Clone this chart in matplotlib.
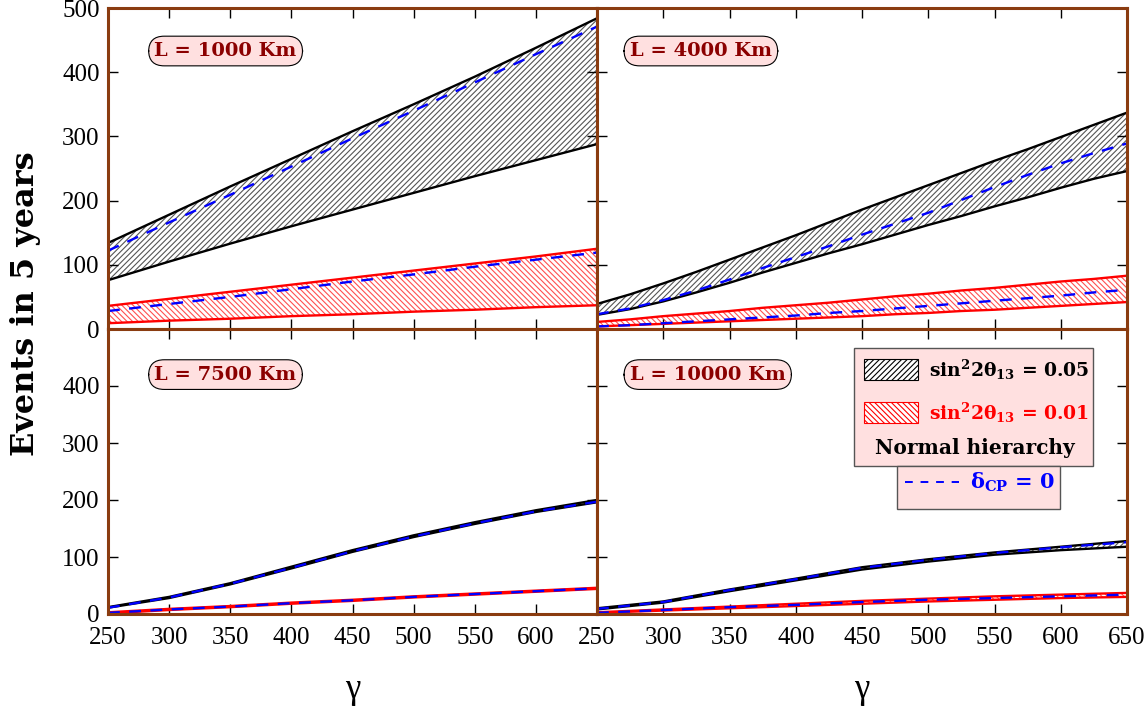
import matplotlib
matplotlib.use("Agg")
import matplotlib.pyplot as plt
from matplotlib.patches import Rectangle
from matplotlib.lines import Line2D

plt.rcParams['font.family'] = ['Liberation Serif', 'DejaVu Serif']
plt.rcParams['mathtext.fontset'] = 'dejavuserif'
plt.rcParams['hatch.linewidth'] = 0.8

gamma = [250, 300, 350, 400, 450, 500, 550, 600, 650]
gamma_fine = [250, 275, 300, 325, 350, 375, 400, 425, 450,
              475, 500, 525, 550, 575, 600, 625, 650]

# L = 1000 Km
l1000_05_up = [134, 178, 222, 265, 308, 350, 393, 438, 484]
l1000_05_lo = [76, 105, 133, 160, 186, 212, 238, 263, 288]
l1000_05_cp = [122, 166, 209, 253, 297, 340, 384, 428, 471]
l1000_01_up = [36, 47, 58, 69, 80, 91, 102, 113, 125]
l1000_01_lo = [9, 13, 16, 20, 23, 27, 30, 34, 37]
l1000_01_cp = [28, 39, 50, 62, 74, 85, 97, 108, 119]

# L = 4000 Km (read every 25)
l4000_05_up = [39, 54, 71, 89, 108, 127, 146, 166, 186,
               205, 224, 243, 262, 280, 299, 318, 337]
l4000_05_lo = [22, 31, 43, 57, 72, 88, 103, 118, 132,
               147, 162, 176, 191, 205, 220, 234, 246]
l4000_05_cp = [23, 32, 45, 60, 77, 95, 112, 129, 147,
               164, 181, 201, 221, 240, 258, 274, 289]
l4000_01_up = [11, 15, 20, 24, 28, 33, 37, 41, 46,
               51, 55, 60, 64, 69, 74, 78, 83]
l4000_01_lo = [4, 6, 8, 10, 12, 14, 16, 18, 20,
               23, 25, 28, 30, 33, 36, 39, 42]
l4000_01_cp = [4, 6, 9, 12, 15, 18, 21, 25, 28,
               32, 36, 40, 44, 48, 52, 57, 61]

# L = 7500 Km
l7500_05_up = [12, 30, 54, 83, 112, 138, 161, 182, 200]
l7500_05_lo = [11, 28, 52, 80, 109, 135, 158, 179, 196]
l7500_05_cp = [11, 29, 53, 81, 110, 136, 159, 180, 197]
l7500_01_up = [3, 9, 14, 20, 25, 31, 36, 41, 46]
l7500_01_lo = [1, 7, 12, 18, 23, 29, 34, 39, 44]
l7500_01_cp = [2, 8, 13, 19, 24, 30, 35, 40, 45]

# L = 10000 Km
l10000_05_up = [10, 22, 43, 62, 82, 96, 108, 118, 128]
l10000_05_lo = [8, 20, 40, 59, 78, 92, 104, 112, 118]
l10000_05_cp = [9, 21, 42, 61, 81, 95, 107, 117, 126]
l10000_01_up = [3, 8, 13, 18, 23, 27, 31, 34, 37]
l10000_01_lo = [2, 6, 10, 14, 18, 22, 25, 28, 30]
l10000_01_cp = [2, 7, 12, 16, 21, 25, 28, 31, 34]

panels = [
    ("L = 1000 Km", gamma, l1000_05_up, l1000_05_lo, l1000_05_cp,
     l1000_01_up, l1000_01_lo, l1000_01_cp),
    ("L = 4000 Km", gamma_fine, l4000_05_up, l4000_05_lo, l4000_05_cp,
     l4000_01_up, l4000_01_lo, l4000_01_cp),
    ("L = 7500 Km", gamma, l7500_05_up, l7500_05_lo, l7500_05_cp,
     l7500_01_up, l7500_01_lo, l7500_01_cp),
    ("L = 10000 Km", gamma, l10000_05_up, l10000_05_lo, l10000_05_cp,
     l10000_01_up, l10000_01_lo, l10000_01_cp),
]

W, H = 1148, 706
fig = plt.figure(figsize=(W / 100, H / 100), dpi=100)

# axes rectangles in pixels: left, top, right, bottom
rects = [(108, 8, 597, 329), (597, 8, 1127, 329),
         (108, 329, 597, 614), (597, 329, 1127, 614)]

brown = '#8a3c10'
bold_font = dict(family='DejaVu Serif', weight='bold')
axes = []
for i, (l, t, r, b) in enumerate(rects):
    ax = fig.add_axes([l / W, 1 - b / H, (r - l) / W, (b - t) / H])
    axes.append(ax)
    name, g, u5, d5, c5, u1, d1, c1 = panels[i]

    ax.fill_between(g, d5, u5, facecolor='none', edgecolor='#555555',
                    hatch='//////', linewidth=0)
    ax.fill_between(g, d1, u1, facecolor='none', edgecolor='#ff5050',
                    hatch='\\\\\\\\\\\\', linewidth=0)
    ax.plot(g, u5, color='black', lw=1.7)
    ax.plot(g, d5, color='black', lw=1.7)
    ax.plot(g, u1, color='red', lw=1.7)
    ax.plot(g, d1, color='red', lw=1.7)
    ax.plot(g, c5, color='blue', lw=1.7, ls=(0, (5, 4)))
    ax.plot(g, c1, color='blue', lw=1.7, ls=(0, (5, 4)))

    ax.set_xlim(250, 650)
    ax.set_ylim(0, 500)
    ax.set_xticks(gamma)
    ax.set_yticks([0, 100, 200, 300, 400, 500])
    ax.tick_params(direction='in', length=7, width=1, top=True, right=True,
                   labelsize=18, color='black')
    ax.tick_params(axis='x', pad=9)
    ax.tick_params(axis='y', pad=6)
    for s in ax.spines.values():
        s.set_color(brown)
        s.set_linewidth(2.2)

    if i in (0, 1):
        ax.set_xticklabels([])
    else:
        labs = [str(v) for v in gamma]
        if i == 2:
            labs[-1] = ''
        ax.set_xticklabels(labs)
        ax.set_xlabel('\u03b3', fontsize=25, labelpad=18)
    if i in (1, 3):
        ax.set_yticklabels([])
    elif i == 2:
        ax.set_yticklabels(['0', '100', '200', '300', '400', ''])

    ty = 0.866 if i < 2 else 0.84
    tx = 0.095 if i % 2 == 0 else 0.062
    ax.text(tx, ty, name, transform=ax.transAxes, ha='left', va='center',
            fontsize=14, color='#8b0000', **bold_font,
            bbox=dict(boxstyle='round,pad=0.3,rounding_size=0.8',
                      facecolor='#ffe0e0', edgecolor='black', lw=0.8))

fig.text(0.022, 0.57, 'Events in 5 years', rotation=90, ha='center',
         va='center', fontsize=23, **bold_font)

# legend in the L = 10000 Km panel
ax = axes[3]
pink = '#ffe0e0'
ax.add_patch(Rectangle((0.485, 0.519), 0.451, 0.414, transform=ax.transAxes,
                       facecolor=pink, edgecolor='#555555', lw=1, zorder=5))
ax.add_patch(Rectangle((0.566, 0.368), 0.308, 0.151, transform=ax.transAxes,
                       facecolor=pink, edgecolor='#555555', lw=1, zorder=5))
ax.add_patch(Rectangle((0.504, 0.821), 0.102, 0.074, transform=ax.transAxes,
                       facecolor='white', edgecolor='black', hatch='//////',
                       lw=0.8, zorder=6))
ax.add_patch(Rectangle((0.504, 0.670), 0.102, 0.074, transform=ax.transAxes,
                       facecolor='white', edgecolor='red', hatch='\\\\\\\\\\\\',
                       lw=0.8, zorder=6))
ax.text(0.626, 0.856, r'sin$^{\mathbf{2}}$2θ$_{\mathbf{13}}$ = 0.05',
        transform=ax.transAxes, ha='left', va='center', fontsize=13.5,
        color='black', zorder=7, **bold_font)
ax.text(0.626, 0.705, r'sin$^{\mathbf{2}}$2θ$_{\mathbf{13}}$ = 0.01',
        transform=ax.transAxes, ha='left', va='center', fontsize=13.5,
        color='red', zorder=7, **bold_font)
ax.text(0.712, 0.582, 'Normal hierarchy', transform=ax.transAxes, ha='center',
        va='center', fontsize=14.5, color='black', zorder=7, **bold_font)
ax.add_line(Line2D([0.581, 0.683], [0.463, 0.463], transform=ax.transAxes,
                   color='blue', lw=1.4, ls=(0, (4, 4)), zorder=7))
ax.text(0.703, 0.462, r'δ$_{\mathbf{CP}}$ = 0', transform=ax.transAxes,
        ha='left', va='center', fontsize=15, color='blue', zorder=7, **bold_font)

fig.savefig("out.png", dpi=100)
